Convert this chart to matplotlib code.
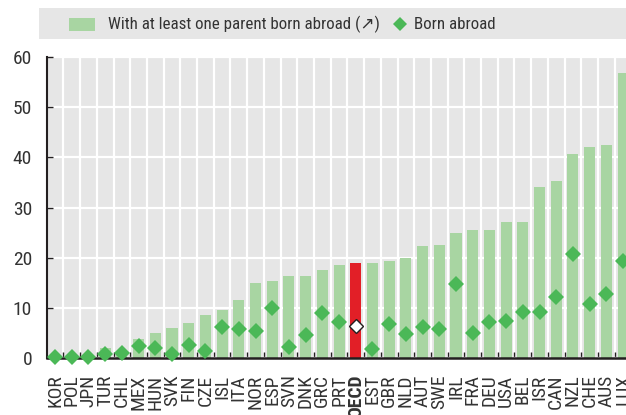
import matplotlib
matplotlib.use("Agg")
import matplotlib.pyplot as plt
from matplotlib import font_manager
from matplotlib.patches import Rectangle
from matplotlib.lines import Line2D
import numpy as np

countries = ["KOR", "POL", "JPN", "TUR", "CHL", "MEX", "HUN", "SVK", "FIN", "CZE",
             "ISL", "ITA", "NOR", "ESP", "SVN", "DNK", "GRC", "PRT", "OECD", "EST",
             "GBR", "NLD", "AUT", "SWE", "IRL", "FRA", "DEU", "USA", "BEL", "ISR",
             "CAN", "NZL", "CHE", "AUS", "LUX"]
parent_abroad = [0.2, 0.2, 0.2, 1.9, 1.0, 3.7, 4.9, 5.9, 7.0, 8.6,
                 9.6, 11.6, 15.0, 15.4, 16.4, 16.4, 17.6, 18.6, 19.0, 19.0,
                 19.4, 20.0, 22.4, 22.6, 25.0, 25.6, 25.6, 27.2, 27.2, 34.1,
                 35.3, 40.7, 42.1, 42.5, 56.9]
born_abroad = [0.2, 0.2, 0.2, 0.7, 1.0, 2.3, 1.9, 0.7, 2.6, 1.3,
               6.2, 5.7, 5.3, 10.0, 2.1, 4.6, 8.9, 7.2, 6.4, 1.7,
               6.8, 4.8, 6.1, 5.8, 14.8, 5.0, 7.1, 7.3, 9.1, 9.1,
               12.2, 20.7, 10.8, 12.8, 19.3]
yticks = [0, 10, 20, 30, 40, 50, 60]
legend_labels = ["With at least one parent born abroad (\u2197)", "Born abroad"]

available = {f.name for f in font_manager.fontManager.ttflist}
main_font = "DejaVu Sans"
for cand in ["Liberation Sans Narrow", "Arial Narrow", "Roboto Condensed",
             "Archivo Narrow", "Barlow Semi Condensed"]:
    if cand in available:
        main_font = cand
        break
plt.rcParams["font.family"] = [main_font, "DejaVu Sans"]

TEXT = "#333333"
BAR = "#A8D5A2"
DIA = "#4BB857"
RED = "#E21F27"
BG = "#E6E6E6"
SPINE = "#231F20"
FS = 14
LEG_FS = 12.2

W, H = 626, 415
fig = plt.figure(figsize=(W / 100, H / 100), dpi=100)
left_px, right_px = 46.7, 631.4
bottom_px, top_px = 357.8, 57.3
ax = fig.add_axes([left_px / W, (H - bottom_px) / H,
                   (right_px - left_px) / W, (bottom_px - top_px) / H])
ax.set_facecolor(BG)

x = np.arange(len(countries))
colors = [RED if c == "OECD" else BAR for c in countries]
ax.bar(x, parent_abroad, width=0.66, color=colors, zorder=2)

oecd_i = countries.index("OECD")
mask = np.array([c != "OECD" for c in countries])
ax.plot(x[mask], np.array(born_abroad)[mask], linestyle="none", marker="D",
        markersize=7.7, color=DIA, markeredgewidth=0, zorder=5, clip_on=False)
ax.plot([x[oecd_i]], [born_abroad[oecd_i]], linestyle="none", marker="D",
        markersize=7.0, markerfacecolor="white", markeredgecolor=SPINE,
        markeredgewidth=1.0, zorder=6, clip_on=False)

ax.set_xlim(-0.5, len(countries) - 0.5)
ax.set_ylim(0, 60)
ax.set_yticks(yticks)
ax.set_yticklabels([str(v) for v in yticks])
ax.set_xticks(x)
ax.set_xticklabels(countries, rotation=90, va="top", ha="center")
for lbl in ax.get_xticklabels():
    if lbl.get_text() == "OECD":
        lbl.set_fontweight("bold")
ax.set_xticks(np.arange(len(countries) - 1) + 0.5, minor=True)

ax.tick_params(axis="x", which="major", length=0, pad=12, labelsize=FS, labelcolor=TEXT)
ax.tick_params(axis="x", which="minor", direction="in", length=4, width=1, color=SPINE)
ax.tick_params(axis="y", which="major", direction="in", length=4, width=1, color=SPINE,
               pad=10.5, labelsize=FS, labelcolor=TEXT)

ax.grid(True, axis="y", which="major", color="white", linewidth=1.6, zorder=1)
ax.grid(True, axis="x", which="minor", color="white", linewidth=1.6, zorder=1)
ax.grid(False, axis="x", which="major")
ax.set_axisbelow(True)

for s in ["top", "right"]:
    ax.spines[s].set_visible(False)
ax.spines["left"].set_color(SPINE)
ax.spines["left"].set_linewidth(1.5)
ax.spines["bottom"].set_color(SPINE)
ax.spines["bottom"].set_linewidth(1.8)
ax.spines["bottom"].set_zorder(4)

# Legend band
fig.add_artist(Rectangle((39 / W, 1 - 39 / H), 1 - 39 / W, 31 / H,
                         transform=fig.transFigure, facecolor=BG, edgecolor="none"))
ly = 1 - 24.5 / H
fig.add_artist(Rectangle((69 / W, ly - 6.5 / H), 26 / W, 13 / H,
                         transform=fig.transFigure, facecolor=BAR, edgecolor="none"))
fig.text(108 / W, ly, legend_labels[0], ha="left", va="center", fontsize=LEG_FS, color=TEXT)
fig.add_artist(Line2D([399.5 / W], [ly], transform=fig.transFigure, linestyle="none",
                      marker="D", markersize=7.0, color=DIA, markeredgewidth=0))
fig.text(414 / W, ly, legend_labels[1], ha="left", va="center", fontsize=LEG_FS, color=TEXT)

fig.savefig("out.png", dpi=100)
